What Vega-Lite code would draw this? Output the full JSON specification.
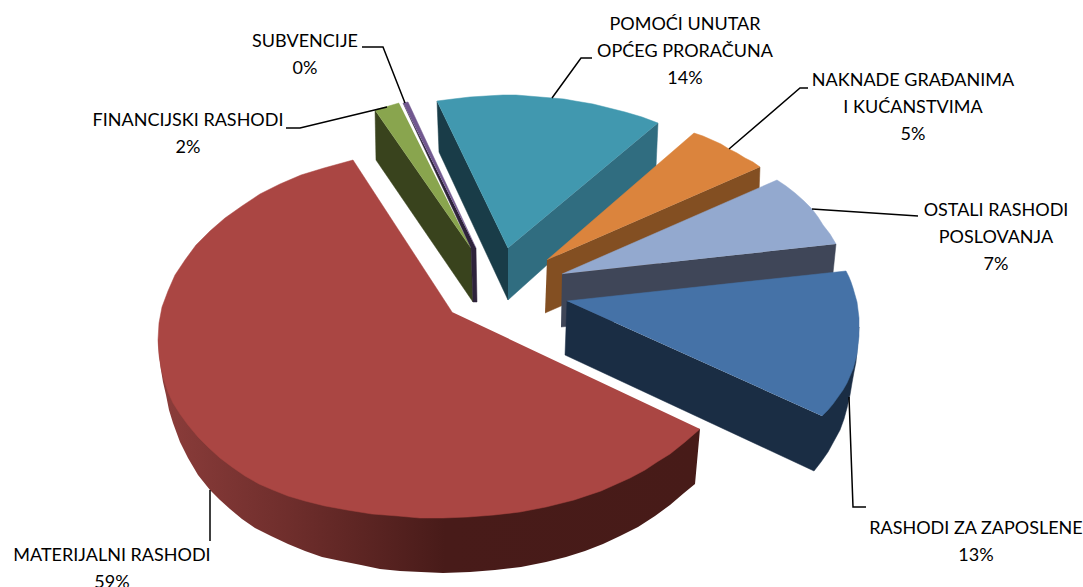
{"$schema":"https://vega.github.io/schema/vega-lite/v6.json","width":1083,"height":587,"padding":0,"autosize":"none","background":"white","config":{"view":{"stroke":null}},
"datasets":{
"redwall":[[158,340],[159,355],[161,370],[163,382],[166,395],[169,410],[173,423],[180,442],[188,458],[198,475],[210,490],[220,500],[230,509],[242,519],[255,528],[271,536],[288,544],[305,551],[322,557],[341,561],[361,565],[380,569],[400,571],[421,572],[443,573],[470,572],[495,570],[521,567],[546,562],[566,557],[585,551],[603,544],[620,536],[638,527],[655,516],[670,505],[684,493],[695,484],[700,429]],
"shapes":[
{"part":"teal left wall","pts":[[437,101],[439,152],[508,300],[508,248]]},
{"part":"teal right wall","pts":[[508,248],[658,123],[656,167],[508,300]]},
{"part":"teal","pts":[[508,248],[437,101],[453,99],[470,97],[486,96],[503,95],[516,95],[528,96],[540,97],[552,98],[564,99],[575,101],[593,104],[609,108],[625,112],[642,117],[658,123]]},
{"part":"orange wall","pts":[[547,260],[760,167],[758,220],[545,313]]},
{"part":"orange","pts":[[547,260],[694,133],[703,136],[712,140],[721,144],[729,149],[737,153],[745,158],[753,162],[760,167]]},
{"part":"light wall","pts":[[562,274],[836,244],[833,273],[833,300],[561,327]]},
{"part":"light","pts":[[562,274],[777,180],[786,186],[795,193],[804,201],[812,209],[818,217],[823,225],[830,234],[833,239],[836,244]]},
{"part":"blue wall","pts":[[567,301],[565,355],[814,471],[821,462],[828,452],[834,441],[840,430],[844,419],[847,408],[850,395],[852,383],[854,372],[856,362],[859,327],[822,416]]},
{"part":"blue","pts":[[567,301],[846,271],[849,277],[851,282],[853,288],[855,295],[857,302],[858,310],[859,318],[859,327],[859,336],[858,345],[857,354],[855,362],[853,369],[850,376],[847,383],[843,390],[838,397],[833,404],[828,410],[822,416]]},
{"part":"red","pts":[[452,312],[353,160],[324,168],[301,175],[280,184],[260,194],[242,206],[225,218],[210,231],[196,245],[185,260],[175,275],[168,291],[162,307],[159,323],[158,340],[159,355],[161,368],[164,380],[168,392],[173,403],[180,414],[188,425],[198,437],[209,448],[220,458],[232,467],[245,476],[259,484],[273,490],[288,496],[305,501],[325,506],[347,510],[372,514],[398,516],[420,518],[443,518],[468,517],[494,515],[520,512],[546,507],[574,500],[601,491],[630,478],[645,470],[657,462],[670,454],[685,442],[700,429]]},
{"part":"green wall","pts":[[375,110],[376,160],[473,302],[471,248]]},
{"part":"green","pts":[[471,248],[375,110],[399,103]]},
{"part":"purple wall","pts":[[403,103],[471,248],[473,302],[477,302],[476,248]]},
{"part":"purple","pts":[[403,103],[408,102],[476,248]]}
],
"leaders":[
{"id":"a","pts":[[362,47],[383,47],[405,103]]},
{"id":"b","pts":[[286,128],[300,128],[387,107]]},
{"id":"c","pts":[[552,98],[581,58],[592,58]]},
{"id":"d","pts":[[729,149],[800,88],[808,88]]},
{"id":"e","pts":[[812,209],[918,216]]},
{"id":"f","pts":[[849,397],[853,507],[866,507]]},
{"id":"g","pts":[[210,490],[210,541]]}
],
"labels":[
{"x":685,"y":25,"t":"POMOĆI UNUTAR"},{"x":685,"y":52,"t":"OPĆEG PRORAČUNA"},{"x":685,"y":79,"t":"14%"},
{"x":913,"y":81,"t":"NAKNADE GRAĐANIMA"},{"x":913,"y":108,"t":"I KUĆANSTVIMA"},{"x":913,"y":135,"t":"5%"},
{"x":996,"y":211,"t":"OSTALI RASHODI"},{"x":996,"y":238,"t":"POSLOVANJA"},{"x":996,"y":265,"t":"7%"},
{"x":976,"y":529,"t":"RASHODI ZA ZAPOSLENE"},{"x":976,"y":556,"t":"13%"},
{"x":112,"y":556,"t":"MATERIJALNI RASHODI"},{"x":112,"y":583,"t":"59%"},
{"x":188,"y":121,"t":"FINANCIJSKI RASHODI"},{"x":188,"y":148,"t":"2%"},
{"x":305,"y":42,"t":"SUBVENCIJE"},{"x":305,"y":69,"t":"0%"}
]},
"data":{"values":[]},
"layer":[
{"data":{"name":"redwall"},"transform":[{"calculate":"datum[0]","as":"x"},{"calculate":"datum[1]","as":"y"}],
"mark":{"type":"line","strokeWidth":0,"fill":{"x1":0,"y1":0,"x2":1,"y2":0,"gradient":"linear","stops":[{"offset":0,"color":"#8C3D3B"},{"offset":0.24,"color":"#6F2E2C"},{"offset":0.53,"color":"#481B19"},{"offset":1,"color":"#471B18"}]}},
"encoding":{"x":{"field":"x","type":"quantitative","scale":{"domain":[0,1083],"nice":false,"zero":false},"axis":null},"y":{"field":"y","type":"quantitative","scale":{"domain":[587,0],"nice":false,"zero":false},"axis":null},"order":{"field":"i"}}},
{"data":{"name":"shapes"},"transform":[{"flatten":["pts"],"as":["p"]},{"window":[{"op":"row_number","as":"i"}]},{"calculate":"datum.p[0]","as":"x"},{"calculate":"datum.p[1]","as":"y"}],
"mark":{"type":"line","strokeWidth":0.5},
"encoding":{"x":{"field":"x","type":"quantitative","axis":null},"y":{"field":"y","type":"quantitative","axis":null},"order":{"field":"i"},
"detail":{"field":"part"},
"fill":{"field":"part","type":"nominal","legend":null,"scale":{"domain":["teal","teal left wall","teal right wall","orange","orange wall","light","light wall","blue","blue wall","red","green","green wall","purple","purple wall"],"range":["#4198AF","#193C48","#306D80","#DB843D","#834F22","#93A9CF","#3F4658","#4572A7","#1A2D44","#AA4643","#89A54E","#39431D","#71588F","#2E233B"]}},
"stroke":{"field":"part","type":"nominal","legend":null,"scale":{"domain":["teal","teal left wall","teal right wall","orange","orange wall","light","light wall","blue","blue wall","red","green","green wall","purple","purple wall"],"range":["#4198AF","#193C48","#306D80","#DB843D","#834F22","#93A9CF","#3F4658","#4572A7","#1A2D44","#AA4643","#89A54E","#39431D","#71588F","#2E233B"]}}}},
{"data":{"name":"leaders"},"transform":[{"flatten":["pts"],"as":["p"]},{"window":[{"op":"row_number","as":"i"}]},{"calculate":"datum.p[0]","as":"x"},{"calculate":"datum.p[1]","as":"y"}],
"mark":{"type":"line","color":"black","strokeWidth":1.5},
"encoding":{"x":{"field":"x","type":"quantitative","axis":null},"y":{"field":"y","type":"quantitative","axis":null},"order":{"field":"i"},"detail":{"field":"id"}}},
{"data":{"name":"labels"},"mark":{"type":"text","font":"Lato","fontSize":18,"color":"black","align":"center","baseline":"middle"},
"encoding":{"x":{"field":"x","type":"quantitative","axis":null},"y":{"field":"y","type":"quantitative","axis":null},"text":{"field":"t"}}}
],
"resolve":{"scale":{"fill":"independent","stroke":"independent"}}}
